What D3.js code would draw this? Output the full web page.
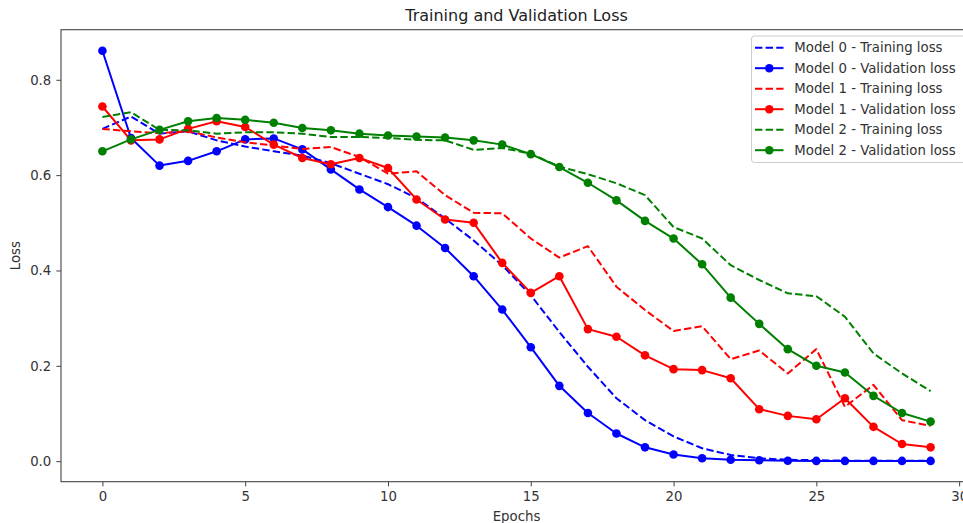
<!DOCTYPE html>
<html><head><meta charset="utf-8">
<script src="https://cdn.jsdelivr.net/npm/d3@7"></script>
<style>html,body{margin:0;padding:0;background:#fff;overflow:hidden}svg{display:block;font-family:"DejaVu Sans",sans-serif}</style>
</head><body>
<svg id="chart" width="963" height="523"></svg>
<script>
const epochs = d3.range(0, 30);
const model0Train = [0.697,0.723,0.687,0.692,0.673,0.660,0.650,0.641,0.625,0.603,0.581,0.552,0.509,0.463,0.411,0.348,0.271,0.198,0.132,0.086,0.052,0.027,0.013,0.006,0.003,0.002,0.001,0.001,0.001,0.001];
const model0Val   = [0.861,0.678,0.620,0.630,0.650,0.675,0.677,0.654,0.612,0.570,0.533,0.494,0.447,0.388,0.318,0.239,0.158,0.101,0.058,0.029,0.014,0.006,0.003,0.002,0.001,0.0005,0.0005,0.0005,0.0005,0.0005];
const model1Train = [0.697,0.692,0.688,0.692,0.679,0.669,0.662,0.655,0.659,0.638,0.603,0.608,0.558,0.521,0.520,0.467,0.427,0.451,0.366,0.317,0.273,0.283,0.214,0.232,0.184,0.235,0.114,0.160,0.086,0.074];
const model1Val   = [0.744,0.673,0.675,0.697,0.713,0.701,0.664,0.636,0.623,0.636,0.615,0.549,0.507,0.500,0.416,0.353,0.388,0.277,0.261,0.222,0.193,0.191,0.174,0.109,0.095,0.088,0.132,0.072,0.036,0.029];
const model2Train = [0.722,0.732,0.695,0.694,0.687,0.690,0.690,0.687,0.680,0.680,0.678,0.674,0.673,0.653,0.657,0.645,0.618,0.602,0.583,0.558,0.491,0.467,0.411,0.380,0.352,0.346,0.303,0.226,0.184,0.147];
const model2Val   = [0.650,0.675,0.695,0.713,0.720,0.716,0.710,0.699,0.694,0.687,0.683,0.681,0.679,0.673,0.664,0.644,0.617,0.584,0.547,0.504,0.467,0.413,0.343,0.288,0.235,0.200,0.186,0.137,0.101,0.083];
const xTicks = [0,5,10,15,20,25,30];
const yTicks = [0.0,0.2,0.4,0.6,0.8];
const seriesNames = ["Model 0 - Training loss","Model 0 - Validation loss","Model 1 - Training loss","Model 1 - Validation loss","Model 2 - Training loss","Model 2 - Validation loss"];
const seriesColors = ["#0000ff","#0000ff","#ff0000","#ff0000","#008000","#008000"];
const seriesData = [model0Train, model0Val, model1Train, model1Val, model2Train, model2Val];
const seriesDashed = [true,false,true,false,true,false];

const svg = d3.select("#chart");
const L = 61, R = 972, T = 29.7, B = 481.7;
const x = d3.scaleLinear().domain([-1.45, 30.45]).range([L, R]);
const y = d3.scaleLinear().domain([-0.0431, 0.9051]).range([B, T]);
const axisColor = "#444";

// title
svg.append("text").attr("x", (L+R)/2).attr("y", 21).attr("text-anchor","middle")
  .attr("font-size","16px").attr("fill","#222").text("Training and Validation Loss");

const g = svg.append("g");
const clip = svg.append("clipPath").attr("id","clip").append("rect")
  .attr("x",L).attr("y",T).attr("width",R-L).attr("height",B-T);

// axes
const xAxis = g.append("g").attr("transform",`translate(0,${B})`)
  .call(d3.axisBottom(x).tickValues(xTicks).tickFormat(d3.format("d")).tickSizeOuter(0).tickSize(4.7).tickPadding(5));
const yAxis = g.append("g").attr("transform",`translate(${L},0)`)
  .call(d3.axisLeft(y).tickValues(yTicks).tickFormat(d3.format(".1f")).tickSizeOuter(0).tickSize(4.7).tickPadding(5));
[xAxis,yAxis].forEach(a=>{
  a.select(".domain").remove();
  a.selectAll("line").attr("stroke",axisColor).attr("stroke-width",1);
  a.selectAll("text").attr("fill","#333").attr("font-size","13.3px").attr("font-family","DejaVu Sans, sans-serif");
});
// frame
g.append("rect").attr("x",L).attr("y",T).attr("width",R-L).attr("height",B-T)
  .attr("fill","none").attr("stroke",axisColor).attr("stroke-width",1.1);

// axis labels
svg.append("text").attr("x",(L+R)/2).attr("y",521).attr("text-anchor","middle")
  .attr("font-size","13.3px").attr("fill","#333").text("Epochs");
svg.append("text").attr("transform",`translate(20,${(T+B)/2}) rotate(-90)`).attr("text-anchor","middle")
  .attr("font-size","13.3px").attr("fill","#333").text("Loss");

// lines
const plot = svg.append("g").attr("clip-path","url(#clip)");
const line = d3.line().x((d,i)=>x(epochs[i])).y(d=>y(d));
seriesData.forEach((data,k)=>{
  plot.append("path").datum(data).attr("d",line).attr("fill","none")
    .attr("stroke",seriesColors[k]).attr("stroke-width",2)
    .attr("stroke-dasharray", seriesDashed[k] ? "7.4,3.2" : null)
    .attr("stroke-linejoin","round");
  if(!seriesDashed[k]){
    plot.selectAll(null).data(data).enter().append("circle")
      .attr("cx",(d,i)=>x(epochs[i])).attr("cy",d=>y(d)).attr("r",4.3)
      .attr("fill",seriesColors[k]);
  }
});

// legend
const lg = svg.append("g");
lg.append("rect").attr("x",751.5).attr("y",36).attr("width",215).attr("height",126.5).attr("rx",3)
  .attr("fill","#fff").attr("fill-opacity",0.8).attr("stroke","#ccc").attr("stroke-width",1);
seriesNames.forEach((name,k)=>{
  const yy = 47.7 + k*20.5;
  lg.append("line").attr("x1",755).attr("x2",783.5).attr("y1",yy).attr("y2",yy)
    .attr("stroke",seriesColors[k]).attr("stroke-width",2)
    .attr("stroke-dasharray", seriesDashed[k] ? "7.4,3.2" : null);
  if(!seriesDashed[k]) lg.append("circle").attr("cx",769.3).attr("cy",yy).attr("r",4.3).attr("fill",seriesColors[k]);
  lg.append("text").attr("x",794.3).attr("y",yy+4.7).attr("font-size","13.3px").attr("fill","#333").text(name);
});
</script>
</body></html>
